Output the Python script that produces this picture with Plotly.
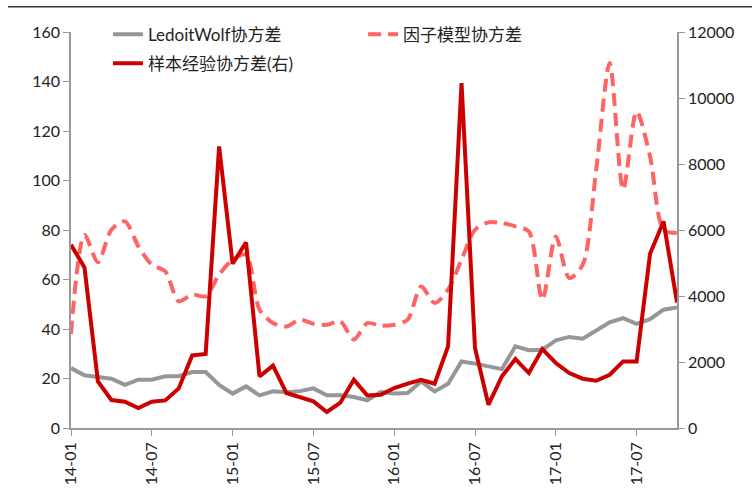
import plotly.graph_objects as go

months = ["14-01", "14-02", "14-03", "14-04", "14-05", "14-06", "14-07", "14-08", "14-09", "14-10", "14-11", "14-12",
          "15-01", "15-02", "15-03", "15-04", "15-05", "15-06", "15-07", "15-08", "15-09", "15-10", "15-11", "15-12",
          "16-01", "16-02", "16-03", "16-04", "16-05", "16-06", "16-07", "16-08", "16-09", "16-10", "16-11", "16-12",
          "17-01", "17-02", "17-03", "17-04", "17-05", "17-06", "17-07", "17-08", "17-09", "17-10"]

tick_labels = ["14-01", "14-07", "15-01", "15-07", "16-01", "16-07", "17-01", "17-07"]

ledoit_wolf = [24.2, 21.3, 20.6, 19.9, 17.4, 19.5, 19.5, 20.9, 20.9, 22.6, 22.6, 17.4,
               13.9, 16.8, 13.2, 14.8, 14.4, 14.9, 16.0, 13.2, 13.2, 12.5, 11.2, 14.5,
               13.9, 14.1, 18.8, 14.8, 17.9, 26.9, 26.0, 24.9, 23.8, 33.0, 31.4, 31.6,
               35.4, 36.8, 36.1, 39.4, 42.7, 44.4, 42.1, 44.0, 47.8, 48.7]

factor_model = [38.0, 78.0, 67.0, 80.1, 83.5, 73.4, 66.0, 63.3, 51.2, 53.9, 53.2, 62.0,
                68.0, 70.0, 47.8, 42.4, 41.0, 43.8, 42.1, 41.7, 43.1, 35.7, 42.4, 41.3,
                41.7, 43.8, 57.2, 50.5, 55.9, 68.0, 80.1, 83.1, 82.8, 81.5, 79.4, 51.8,
                77.4, 60.6, 66.0, 104.4, 147.5, 96.3, 127.9, 109.7, 80.1, 78.8]

sample_cov = [5554, 4866, 1412, 848, 797, 606, 797, 836, 1200, 2200, 2242, 8532,
              4978, 5624, 1564, 1888, 1060, 939, 806, 485, 767, 1463, 988, 1009,
              1212, 1342, 1463, 1342, 2472, 10453, 2424, 706, 1564, 2090, 1666, 2394,
              1970, 1666, 1494, 1433, 1615, 2018, 2018, 5281, 6260, 3806]

FONT = "Lato, 'Noto Sans CJK SC', sans-serif"
AXIS_GRAY = "#999999"

fig = go.Figure()
fig.add_trace(go.Scatter(x=months, y=ledoit_wolf, name="LedoitWolf协方差", mode="lines",
                         line=dict(color="#969696", width=4), legend="legend", showlegend=True))
fig.add_trace(go.Scatter(x=months, y=factor_model, name="因子模型协方差", mode="lines",
                         line=dict(color="#FF6464", width=4, dash="13px,7px", shape="spline", smoothing=0.8),
                         legend="legend2", showlegend=True))
fig.add_trace(go.Scatter(x=months, y=sample_cov, name="样本经验协方差(右)", mode="lines",
                         line=dict(color="#CC0000", width=4), yaxis="y2", legend="legend3", showlegend=True))

legend_common = dict(font=dict(family=FONT, size=17, color="#222222"), bgcolor="rgba(0,0,0,0)",
                     borderwidth=0, xanchor="left", yanchor="middle", orientation="h")

fig.update_layout(
    width=752, height=497,
    showlegend=True,
    margin=dict(l=71, r=75, t=32, b=69, autoexpand=False),
    paper_bgcolor="white", plot_bgcolor="white",
    font=dict(family=FONT, size=16, color="#222222"),
    legend=dict(x=0.061, y=0.993, **legend_common),
    legend2=dict(x=0.482, y=0.993, **legend_common),
    legend3=dict(x=0.061, y=0.92, **legend_common),
    xaxis=dict(type="category", range=[0, len(months) - 1], tickmode="array",
               tickvals=tick_labels, ticktext=tick_labels, tickangle=-90,
               showline=True, linecolor=AXIS_GRAY, linewidth=1.5, ticks="outside",
               ticklen=6, tickcolor=AXIS_GRAY, showgrid=False, zeroline=False,
               tickfont=dict(size=16)),
    yaxis=dict(range=[0, 160], dtick=20, showline=True, linecolor=AXIS_GRAY, linewidth=1.5,
               ticks="outside", ticklen=6, tickcolor=AXIS_GRAY, showgrid=False, zeroline=False,
               tickfont=dict(size=16)),
    yaxis2=dict(range=[0, 12000], dtick=2000, overlaying="y", side="right", showline=True,
                linecolor=AXIS_GRAY, linewidth=1.5, ticks="outside", ticklen=6, tickcolor=AXIS_GRAY,
                showgrid=False, zeroline=False, tickformat="d", tickfont=dict(size=16)),
    shapes=[dict(type="line", xref="paper", yref="paper", x0=-0.104, x1=1.13, y0=1.064, y1=1.064,
                 line=dict(color="#333333", width=1.5))],
)

fig.write_html("out.html", config={"displayModeBar": False},
               post_script="document.body.style.margin='0';")
